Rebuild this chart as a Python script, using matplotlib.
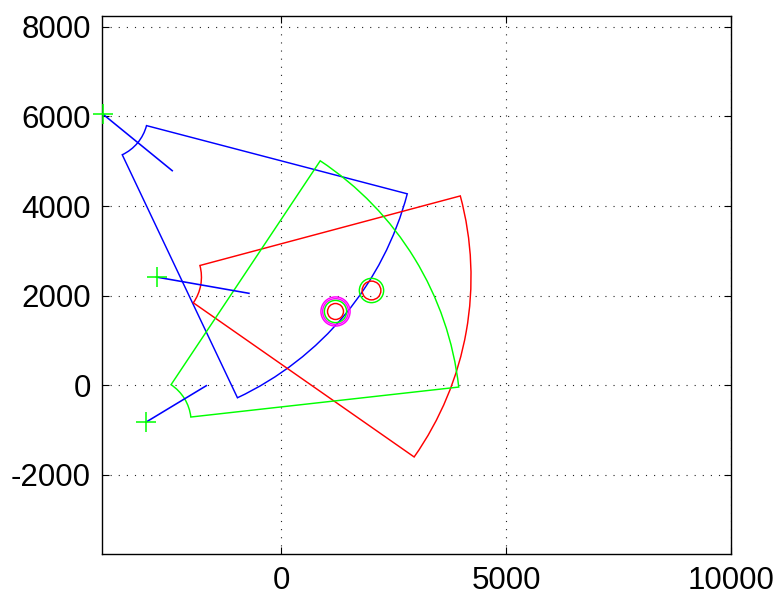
import matplotlib
matplotlib.use("Agg")
import matplotlib.pyplot as plt
from matplotlib.patches import Wedge

# Sensor positions
sensor_x = [-3970, -2780, -3010]
sensor_y = [6050, 2415, -820]

# Boresight heading (deg) and field-of-view coverage of each sensor
heading_deg = [-39.7, -10.0, 31.4]
half_fov_deg = [25.0, 25.0, 25.0]
range_min = [1000, 1000, 1000]
range_max = [7000, 7000, 7000]
fov_colors = ["#0000ff", "#ff0000", "#00ff00"]

# Boresight segment end points
bore_end_x = [-2430, -722, -1671]
bore_end_y = [4790, 2053, -9]

# Position estimates (rings)
est_x = [1190, 1190, 1190, 1190, 2005, 2005]
est_y = [1650, 1650, 1650, 1650, 2125, 2125]
est_size = [21, 18.5, 16, 11.5, 17.5, 13.5]
est_color = ["#ff00ff", "#ff00ff", "#00ff00", "#ff0000", "#00ff00", "#ff0000"]

x_ticks = [0, 5000, 10000]
y_ticks = [-2000, 0, 2000, 4000, 6000, 8000]
x_range = (-4000, 10000)
y_range = (-3766, 8243)

plt.rcParams["font.family"] = ["Liberation Sans", "DejaVu Sans"]

W, H = 778, 594
fig = plt.figure(figsize=(W / 100, H / 100), dpi=100)
ax = fig.add_axes([101.7 / W, 1 - 554 / H, 629 / W, 538 / H])

for sx, sy, hd, hf, r0, r1, c in zip(sensor_x, sensor_y, heading_deg,
                                     half_fov_deg, range_min, range_max,
                                     fov_colors):
    ax.add_patch(Wedge((sx, sy), r1, hd - hf, hd + hf, width=r1 - r0,
                       fill=False, edgecolor=c, linewidth=1.05, zorder=3))

for sx, sy, ex, ey in zip(sensor_x, sensor_y, bore_end_x, bore_end_y):
    ax.plot([sx, ex], [sy, ey], color="#0000ff", linewidth=1.15, zorder=4)

ax.plot(sensor_x, sensor_y, linestyle="none", marker="+", markersize=15,
        markeredgewidth=1.1, color="#00ff00", zorder=5, clip_on=False)

for ex, ey, s, c in zip(est_x, est_y, est_size, est_color):
    ax.plot([ex], [ey], linestyle="none", marker="o", markersize=s,
            markerfacecolor="none", markeredgecolor=c, markeredgewidth=1.05,
            zorder=6)

ax.set_xlim(*x_range)
ax.set_ylim(*y_range)
ax.set_xticks(x_ticks)
ax.set_yticks(y_ticks)
ax.set_xticklabels([str(v) for v in x_ticks])
ax.set_yticklabels([str(v) for v in y_ticks])

ax.grid(True, linestyle=(0, (1, 6.3)), linewidth=0.8, color="#222222")
ax.set_axisbelow(True)
ax.tick_params(axis="both", direction="in", length=5, width=0.8,
               top=True, right=True, labelsize=22.5, colors="black")
ax.tick_params(axis="x", pad=8.3)
ax.tick_params(axis="y", pad=7.7)
for sp in ax.spines.values():
    sp.set_linewidth(1.0)
    sp.set_color("black")

fig.savefig("out.png", dpi=100)
